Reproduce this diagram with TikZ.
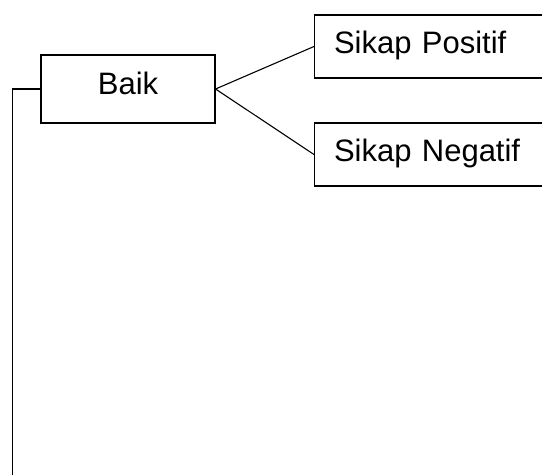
\documentclass[tikz,border=0pt]{standalone}
\usepackage{fontspec}
\setmainfont{Liberation Sans}
\begin{document}
\begin{tikzpicture}[x=1pt,y=1pt,line width=1.1pt,
  every node/.style={font=\fontsize{31}{37}\selectfont, text height=22pt, text depth=7pt},
  mainbox/.style={draw, rectangle, inner sep=0pt, minimum width=174pt, minimum height=68pt, text depth=10pt},
  attbox/.style={draw, rectangle, anchor=west, inner xsep=19.5pt, inner ysep=0pt,
                 text width=221pt, align=left, minimum height=63pt}]
  \useasboundingbox (0,0) rectangle (542,475);
  % root item and its two attitude branches
  \node[mainbox] (baik) at (128,386) {Baik};
  \node[attbox] (pos) at (314,428.5) {Sikap Positif};
  \node[attbox] (neg) at (314,320.5) {Sikap Negatif};
  \coordinate (tail) at (12.5,0);
  \draw (baik.east) -- (pos.west);
  \draw (baik.east) -- (neg.west);
  \draw (baik.west) -| (tail);
\end{tikzpicture}
\end{document}
